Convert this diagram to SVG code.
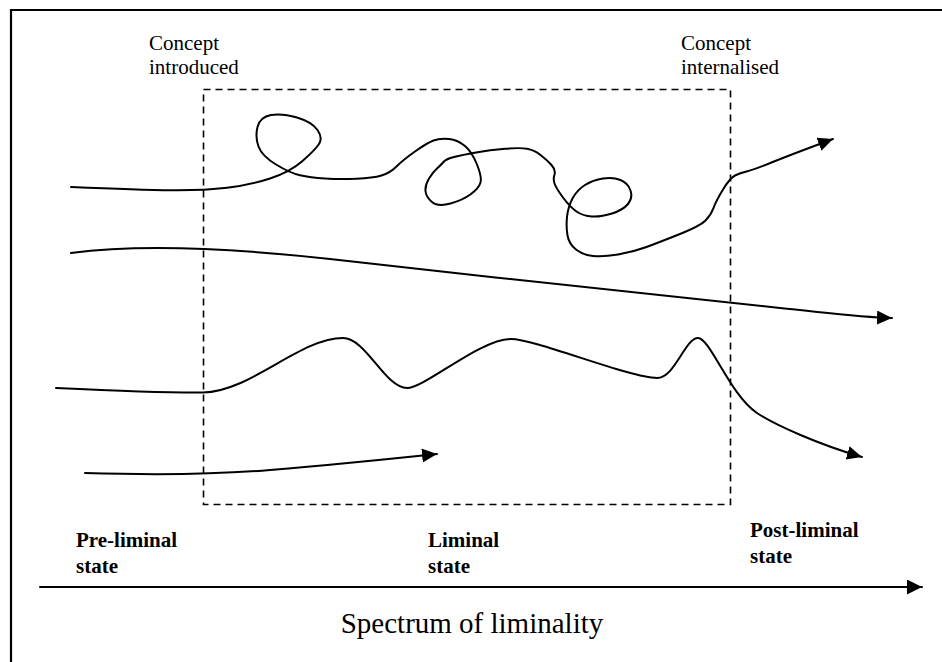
<svg xmlns="http://www.w3.org/2000/svg" width="942" height="662" viewBox="0 0 942 662">
<style>
  .t { font-family: "Liberation Serif", "Times New Roman", serif; fill: #000; }
  .lbl { font-size: 21px; }
  .st { font-size: 21px; font-weight: bold; }
  .axis-lbl { font-size: 29px; }
  .path { fill: none; stroke: #000; stroke-width: 2; stroke-linecap: round; stroke-linejoin: round; }
  .zone { fill: none; stroke: #000; stroke-width: 1.6; stroke-dasharray: 7 5; }
  .frame { fill: none; stroke: #000; stroke-width: 2.2; }
</style>
<defs>
  <marker id="ah" markerUnits="userSpaceOnUse" markerWidth="16" markerHeight="16" refX="15" refY="7" orient="auto">
    <path d="M0,0 L15,7 L0,14 z" fill="#000"/>
  </marker>
  <marker id="ahAxis" markerUnits="userSpaceOnUse" markerWidth="16" markerHeight="16" refX="15" refY="7.5" orient="auto">
    <path d="M0,0 L15,7.5 L0,15 z" fill="#000"/>
  </marker>
</defs>
<rect width="942" height="662" fill="#fff"/>
<path class="frame" d="M11,662 V10 H942"/>

<g id="liminal-zone">
  <rect class="zone" x="203.5" y="89.5" width="527" height="415"/>
</g>

<g id="label-concept-introduced">
  <text class="t lbl" x="149" y="50">Concept</text>
  <text class="t lbl" x="149" y="74">introduced</text>
</g>
<g id="label-concept-internalised">
  <text class="t lbl" x="681" y="50">Concept</text>
  <text class="t lbl" x="681" y="74">internalised</text>
</g>

<g id="connectors">
  <path id="path-1" class="path" marker-end="url(#ah)" d="M71,187 Q140,190 172,190.25 Q204,190.5 227,187.75 Q250,185 270,178.5 Q290,172 302.5,161 Q315,150 319,144 Q323,138 317.5,130 Q312,122 297,117.5 Q282,113 271,115 Q260,117 257.5,127 Q255,137 258.5,146.5 Q262,156 276,164.5 Q290,173 300,175.25 Q310,177.5 325,178.5 Q340,179.5 356.5,178.75 Q373,178 381.5,175.5 Q390,173 396.5,166.5 Q403,160 415,151.5 Q427,143 433.5,140.5 Q440,138 449,139 Q458,140 465,146 Q472,152 477,164.5 Q482,177 480.5,182.5 Q479,188 471,194 Q463,200 450.5,203.5 Q438,207 432,202 Q426,197 425.5,191 Q425,185 429,178.5 Q433,172 437,168.5 Q441,165 443.5,162 Q446,159 454,157 Q462,155 476,152.5 Q490,150 505,148.75 Q520,147.5 527,148.75 Q534,150 540.5,155 Q547,160 551.5,165 Q556,170 554.5,174.5 Q553,179 554.5,183.5 Q556,188 563,197.5 Q570,207 576.5,211.5 Q583,216 592,216.5 Q601,217 612,213.5 Q623,210 628,204 Q633,198 630.5,190.5 Q628,183 620.5,180 Q613,177 603,178.5 Q593,180 585,185 Q577,190 572.5,198.5 Q568,207 567,217 Q566,227 567.5,235.5 Q569,244 576,249.5 Q583,255 593,256 Q603,257 618,254.5 Q633,252 646.5,247 Q660,242 680,234 Q700,226 705.5,220.5 Q711,215 713.5,208 Q716,201 723,189.5 Q730,178 735,175.5 Q740,173 746.5,171.5 Q753,170 771.5,162.5 Q790,155 833,139"/>
  <path id="path-2" class="path" marker-end="url(#ah)" d="M71,253 C140,244 230,248 330,259 C480,276 700,300 780,308 C830,313 860,317 892,318"/>
  <path id="path-3" class="path" marker-end="url(#ah)" d="M56,388 C120,391 170,393 203,392.5 C250,392 300,338 343,338 C366,338 385,388 407,388 C425,388 480,339 511,339 C535,339 630,378 657,378 C675,378 685,338 698,338 C710,338 730,395 757,413 C775,425 820,445 862,457"/>
  <path id="path-4" class="path" marker-end="url(#ah)" d="M85,473 C150,475 210,475 270,470 C330,465 380,460 437,454"/>
  <path id="axis" class="path" stroke-width="2.5" marker-end="url(#ahAxis)" d="M40,587 H922"/>
</g>

<g id="label-pre-liminal">
  <text class="t st" x="76" y="547">Pre-liminal</text>
  <text class="t st" x="76" y="573">state</text>
</g>
<g id="label-liminal">
  <text class="t st" x="428" y="547">Liminal</text>
  <text class="t st" x="428" y="573">state</text>
</g>
<g id="label-post-liminal">
  <text class="t st" x="750" y="537">Post-liminal</text>
  <text class="t st" x="750" y="563">state</text>
</g>
<g id="label-spectrum">
  <text class="t axis-lbl" x="472" y="633" text-anchor="middle">Spectrum of liminality</text>
</g>
</svg>
